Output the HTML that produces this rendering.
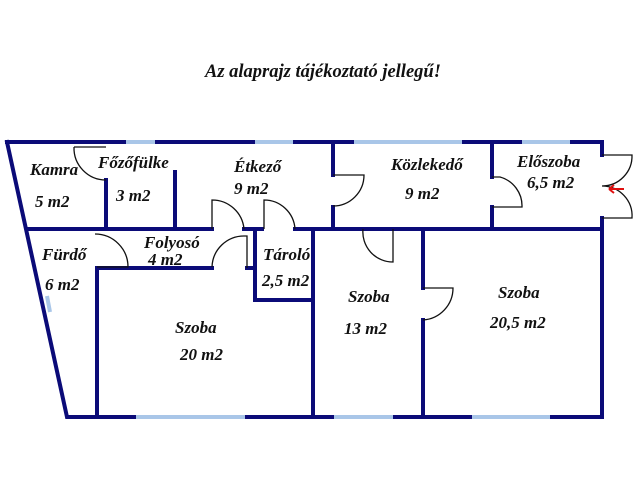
<!DOCTYPE html>
<html><head><meta charset="utf-8"><style>
html,body{margin:0;padding:0;background:#fff;}
svg{display:block}
text{font-family:"Liberation Serif",serif;font-weight:bold;font-style:italic;font-size:17px;fill:#111}
</style></head><body>
<svg width="640" height="480" viewBox="0 0 640 480">
<text x="205" y="77" style="font-size:18.5px">Az alaprajz tájékoztató jellegű!</text>
<g stroke="#0b0b78" stroke-width="4" fill="none" stroke-linecap="square">
<path d="M7 142 L602 142 L602 155"/>
<path d="M602 218 L602 417 L67 417 L7 142"/>
<path d="M28 229 L212 229 M244 229 L262 229 M295 229 L602 229"/>
<path d="M106 180 L106 229"/>
<path d="M175 172 L175 229"/>
<path d="M333 142 L333 175 M333 207 L333 229"/>
<path d="M492 142 L492 177 M492 207 L492 229"/>
<path d="M97 268 L97 417"/>
<path d="M97 268 L212 268"/>
<path d="M247 268 L255 268"/>
<path d="M255 229 L255 300 L313 300"/>
<path d="M313 229 L313 417"/>
<path d="M423 229 L423 288 M423 320 L423 417"/>
</g>
<g stroke="#a9c6e8" stroke-width="4" fill="none">
<path d="M126 142 L155 142 M255 142 L293 142 M354 142 L462 142 M522 142 L570 142"/>
<path d="M136 417 L245 417 M334 417 L393 417 M472 417 L550 417"/>
<path d="M47 296 L50 312"/>
</g>
<g stroke="#111" stroke-width="1.3" fill="none">
<path d="M74 147 L106 147 M74 147 A32 32 0 0 0 106 180"/>
<path d="M212 229 L212 200 A32 32 0 0 1 244 229"/>
<path d="M264 229 L264 200 A31 31 0 0 1 295 229"/>
<path d="M95 234 A33 33 0 0 1 128 267 L97 267"/>
<path d="M212 267 A32 32 0 0 1 244 236 L247 236 L247 268"/>
<path d="M333 175 L364 175 A31 31 0 0 1 333 206"/>
<path d="M492 177 L500 177 A30 30 0 0 1 522 207 L492 207"/>
<path d="M363 229 A30 30 0 0 0 393 262 L393 229"/>
<path d="M423 288 L453 288 A32 32 0 0 1 423 320"/>
<path d="M602 155 L632 155 A30 30 0 0 1 602 186 M602 186 A30 30 0 0 1 632 218 L602 218"/>
</g>
<path d="M609 189 L624 189 M609 189 L614 185 M609 189 L614 193" stroke="#e01010" stroke-width="2" fill="none"/>
<text x="30" y="175">Kamra</text><text x="35" y="207">5 m2</text>
<text x="98" y="168">Főzőfülke</text><text x="116" y="201">3 m2</text>
<text x="234" y="172">Étkező</text><text x="234" y="194">9 m2</text>
<text x="391" y="170">Közlekedő</text><text x="405" y="199">9 m2</text>
<text x="517" y="167">Előszoba</text><text x="527" y="188">6,5 m2</text>
<text x="42" y="260">Fürdő</text><text x="45" y="290">6 m2</text>
<text x="144" y="248">Folyosó</text><text x="148" y="265">4 m2</text>
<text x="263" y="260">Tároló</text><text x="262" y="286">2,5 m2</text>
<text x="175" y="333">Szoba</text><text x="180" y="360">20 m2</text>
<text x="348" y="302">Szoba</text><text x="344" y="334">13 m2</text>
<text x="498" y="298">Szoba</text><text x="490" y="328">20,5 m2</text>
</svg>
</body></html>
